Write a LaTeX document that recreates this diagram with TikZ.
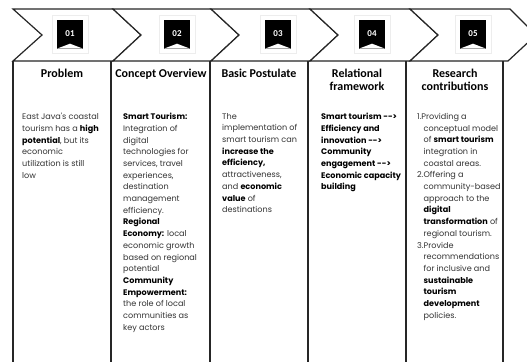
\documentclass[tikz,border=0pt]{standalone}
\usepackage{fontspec}
\newfontfamily\headfont{Carlito}
\newfontfamily\bodyfont{Poppins}
\usetikzlibrary{positioning}

\newcommand{\bt}[1]{\textbf{\color{black}#1}}
\newcommand{\ind}{\hspace*{6.5pt}}

\begin{document}
\begin{tikzpicture}[
    x=1pt, y=-1pt,
    chev/.style={draw=black!85, line width=1.2pt, line join=miter, fill=white},
    col/.style={draw=black!85, line width=1.2pt},
    frame/.style={draw=black!7, minimum width=36pt, minimum height=38pt, inner sep=0pt},
    badge/.style={fill=black, text=white, minimum width=26pt, minimum height=29pt, inner sep=0pt, font=\headfont\bfseries\fontsize{9}{9}\selectfont},
    head/.style={align=center, inner sep=0pt, anchor=north, font=\headfont\bfseries\fontsize{12}{13}\selectfont},
    body/.style={align=left, inner sep=0pt, anchor=north west, text=black!80, font=\bodyfont\fontsize{8.1}{11.7}\selectfont}
]
\useasboundingbox (0,0) rectangle (527,362);

% arrow band
\draw[chev] (13,9) -- (113,9) -- (141,35) -- (113,61) -- (13,61) -- (42,35) -- cycle;
\draw[chev] (113,9) -- (211,9) -- (239,35) -- (211,61) -- (113,61) -- (141,35) -- cycle;
\draw[chev] (211,9) -- (310,9) -- (338,35) -- (310,61) -- (211,61) -- (239,35) -- cycle;
\draw[chev] (310,9) -- (410,9) -- (438,35) -- (410,61) -- (310,61) -- (338,35) -- cycle;
\draw[chev] (410,9) -- (510,9) -- (536,35) -- (508,61) -- (410,61) -- (438,35) -- cycle;

% columns
\draw[col] (13,61) -- (13,362);
\draw[col] (111,61) -- (111,362);
\draw[col] (210,61) -- (210,362);
\draw[col] (308,61) -- (308,362);
\draw[col] (406,61) -- (406,362);
\draw[col] (503,61) -- (503,362);

% badges
\node[frame] (f1) at (70,34) {};
\node[frame] (f2) at (177,34) {};
\node[frame] (f3) at (278,34) {};
\node[frame] (f4) at (372,34) {};
\node[frame] (f5) at (473,34) {};
\node[badge] (b1) at (f1) {01};
\node[badge] (b2) at (f2) {02};
\node[badge] (b3) at (f3) {03};
\node[badge] (b4) at (f4) {04};
\node[badge] (b5) at (f5) {05};
\fill[white] (b1.south west) -- ([yshift=5pt]b1.south) -- (b1.south east) -- cycle;
\fill[white] (b2.south west) -- ([yshift=5pt]b2.south) -- (b2.south east) -- cycle;
\fill[white] (b3.south west) -- ([yshift=5pt]b3.south) -- (b3.south east) -- cycle;
\fill[white] (b4.south west) -- ([yshift=5pt]b4.south) -- (b4.south east) -- cycle;
\fill[white] (b5.south west) -- ([yshift=5pt]b5.south) -- (b5.south east) -- cycle;

% headings
\node[head] (problem) at (62,69) {Problem};
\node[head] (concept) at (161,69) {Concept Overview};
\node[head] (postulate) at (259,69) {Basic Postulate};
\node[head] (relation) at (357,69) {Relational\\framework};
\node[head] (contrib) at (455,69) {Research\\contributions};

% texts
\node[body] (problemtxt) at (22,113) {East Java's coastal\\tourism has a \bt{high}\\\bt{potential}, but its\\economic\\utilization is still\\low};
\node[body] (concepttxt) at (123,113) {\bt{Smart Tourism:}\\Integration of\\digital\\technologies for\\services, travel\\experiences,\\destination\\management\\efficiency.\\\bt{Regional}\\\bt{Economy:} local\\economic growth\\based on regional\\potential\\\bt{Community}\\\bt{Empowerment:}\\the role of local\\communities as\\key actors};
\node[body] (postulatetxt) at (222,113) {The\\implementation of\\smart tourism can\\\bt{increase the}\\\bt{efficiency,}\\attractiveness,\\and \bt{economic}\\\bt{value} of\\destinations};
\node[body] (relationtxt) at (321,113) {\bt{Smart tourism -{}->}\\\bt{Efficiency and}\\\bt{innovation -{}->}\\\bt{Community}\\\bt{engagement -{}->}\\\bt{Economic capacity}\\\bt{building}};
\node[body] (contribtxt) at (417,113) {1.Providing a\\\ind conceptual model\\\ind of \bt{smart tourism}\\\ind integration in\\\ind coastal areas.\\2.Offering a\\\ind community-based\\\ind approach to the\\\ind \bt{digital}\\\ind \bt{transformation} of\\\ind regional tourism.\\3.Provide\\\ind recommendations\\\ind for inclusive and\\\ind \bt{sustainable}\\\ind \bt{tourism}\\\ind \bt{development}\\\ind policies.};
\end{tikzpicture}
\end{document}
